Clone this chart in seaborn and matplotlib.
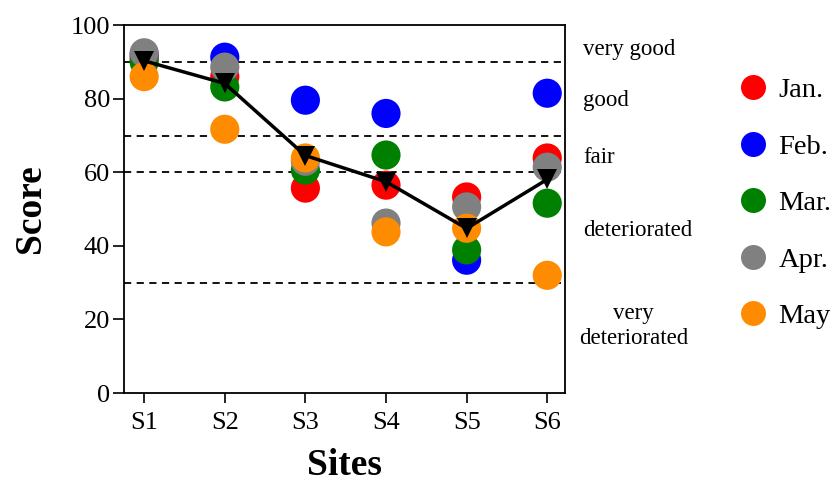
import matplotlib
matplotlib.use("Agg")
import pandas as pd
import matplotlib.pyplot as plt
import matplotlib.transforms as mtransforms
import seaborn as sns
from matplotlib.lines import Line2D

# -------- DATA --------
sites = ["S1", "S2", "S3", "S4", "S5", "S6"]
months = ["Jan.", "Feb.", "Mar.", "Apr.", "May"]
jan = [91, 86, 55.7, 56.5, 53.3, 63.9]
feb = [92, 91.3, 79.6, 76, 36.1, 81.5]
mar = [90, 83.2, 60.6, 64.7, 38.9, 51.6]
apr = [92.5, 88.6, 63, 46.2, 50.6, 61.4]
may = [86, 71.7, 63.9, 43.8, 44.8, 32]
month_colors = ["#ff0000", "#0000ff", "#008000", "#808080", "#ff8c00"]

# quality class limits and names (right side)
class_bounds = [90, 70, 60, 30]
class_labels = ["very good", "good", "fair", "deteriorated", "very\ndeteriorated"]
class_label_y = [93.5, 79.6, 64.1, 44.3, 18.2]

rows = []
for m, vals in zip(months, [jan, feb, mar, apr, may]):
    for s, v in zip(sites, vals):
        rows.append({"Site": s, "Month": m, "Score": v})
df = pd.DataFrame(rows)

# -------- PLOT --------
sns.set_style("white")
plt.rcParams["font.family"] = ["Liberation Serif", "DejaVu Serif"]
plt.rcParams["text.color"] = "black"
plt.rcParams["axes.labelcolor"] = "black"
plt.rcParams["xtick.color"] = "black"
plt.rcParams["ytick.color"] = "black"

fig = plt.figure(figsize=(8.39, 4.84), dpi=100)
ax = fig.add_axes([0.1478, 0.188, 0.5256, 0.760])

sns.scatterplot(data=df, x="Site", y="Score", hue="Month", hue_order=months,
                palette=month_colors, s=440, linewidth=0, legend=False,
                ax=ax, zorder=2)

# mean score per site
sns.lineplot(data=df, x="Site", y="Score", estimator="mean", errorbar=None,
             color="black", linewidth=2.5, marker="v", markersize=14,
             markeredgewidth=0, ax=ax, zorder=3)

for b in class_bounds:
    ax.axhline(b, color="black", linestyle=(0, (4, 3)), linewidth=1.3, zorder=1)

trans = mtransforms.blended_transform_factory(ax.transAxes, ax.transData)
for lab, yv in zip(class_labels, class_label_y):
    if "\n" in lab:
        ax.text(1.156, yv, lab, transform=trans, fontsize=16.5, ha="center",
                va="center", linespacing=1.2)
    else:
        ax.text(1.041, yv, lab, transform=trans, fontsize=16.5, ha="left",
                va="center")

ax.set_xlim(-0.25, 5.22)
ax.set_ylim(0, 100)
ax.set_yticks(range(0, 101, 20))
ax.tick_params(axis="both", labelsize=19, width=1.2, direction="out",
               left=True, bottom=True, right=False, top=False)
ax.tick_params(axis="x", length=7.5, pad=6)
ax.tick_params(axis="y", length=8, pad=2)
for sp in ax.spines.values():
    sp.set_color("black")
    sp.set_linewidth(1.3)

ax.set_xlabel("Sites", fontsize=27, fontweight="bold", labelpad=10)
ax.set_ylabel("Score", fontsize=27, fontweight="bold", labelpad=16)

handles = [Line2D([], [], linestyle="none", marker="o", markersize=18,
                  markerfacecolor=c, markeredgewidth=0) for c in month_colors]
fig.legend(handles, months, loc="center left", bbox_to_anchor=(0.860, 0.580),
           frameon=False, fontsize=20.5, labelspacing=1.07, handletextpad=0.3,
           handlelength=1.2, borderpad=0)

fig.savefig("out.png", dpi=100)
